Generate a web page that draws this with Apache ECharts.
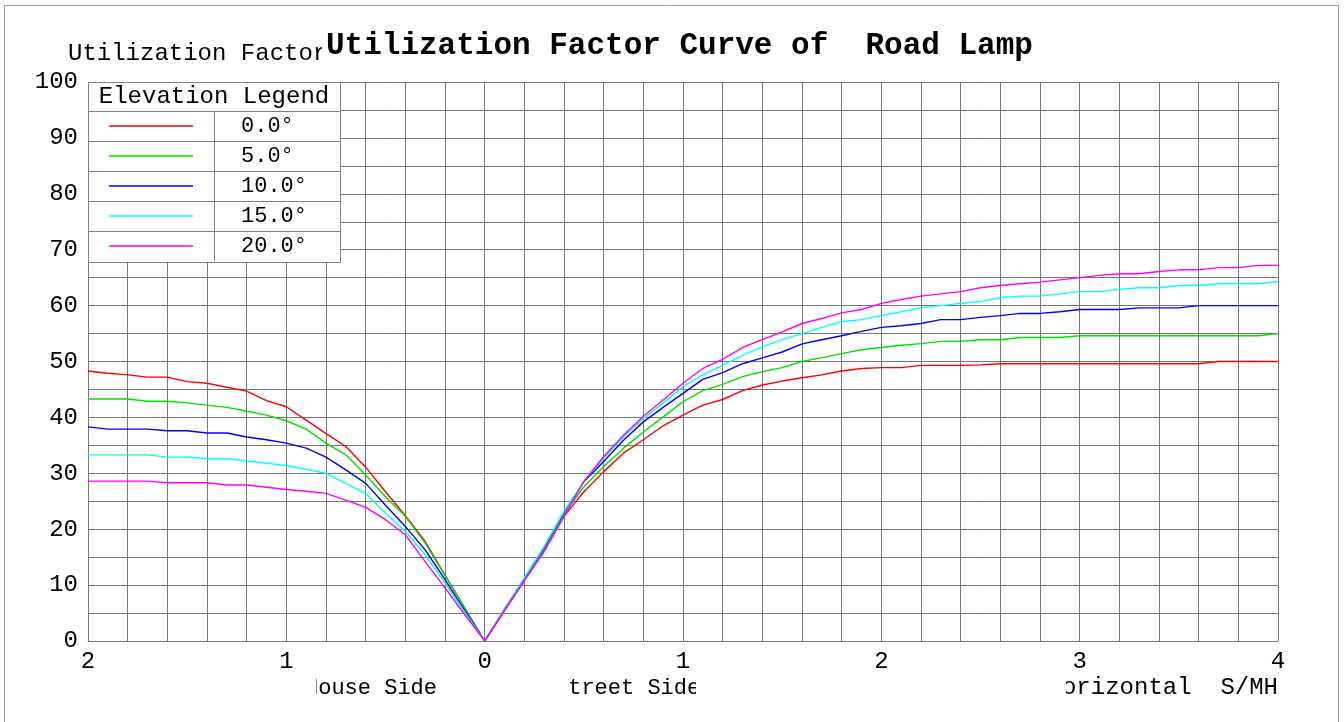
<!DOCTYPE html>
<html>
<head>
<meta charset="utf-8">
<script src="https://cdn.jsdelivr.net/npm/echarts@6/dist/echarts.min.js"></script>
<style>
html,body{margin:0;padding:0;background:#fff;}
#chart{width:1344px;height:722px;}
</style>
</head>
<body>
<div id="chart"></div>
<script>
// S/MH positions (negative = house side)
const xValues = [
  -2.0,-1.9,-1.8,-1.7,-1.6,-1.5,-1.4,-1.3,-1.2,-1.1,-1.0,-0.9,-0.8,-0.7,-0.6,-0.5,-0.4,-0.3,-0.2,-0.1,0,
  0.1,0.2,0.3,0.4,0.5,0.6,0.7,0.8,0.9,1.0,1.1,1.2,1.3,1.4,1.5,1.6,1.7,1.8,1.9,2.0,
  2.1,2.2,2.3,2.4,2.5,2.6,2.7,2.8,2.9,3.0,3.1,3.2,3.3,3.4,3.5,3.6,3.7,3.8,3.9,4.0
];
const seriesNames = ['0.0°','5.0°','10.0°','15.0°','20.0°'];
const elev0 = [
  48.3,47.9,47.6,47.2,47.2,46.4,46.1,45.4,44.7,43.0,41.9,39.5,37.1,34.8,31.1,26.7,22.4,17.8,11.8,5.9,0,
  5.4,10.8,16.3,22.3,26.7,30.3,33.6,36.0,38.5,40.4,42.2,43.2,44.8,45.8,46.5,47.1,47.6,48.3,48.75,48.9,
  48.9,49.3,49.3,49.3,49.4,49.6,49.6,49.6,49.6,49.6,49.6,49.6,49.6,49.6,49.6,49.6,50.0,50.0,50.0,50.0
];
const elev5 = [
  43.3,43.3,43.3,42.9,42.9,42.6,42.2,41.8,41.1,40.4,39.4,37.9,35.4,33.3,29.7,25.8,22.3,17.5,11.7,5.8,0,
  5.5,11.0,16.6,22.6,27.6,31.2,34.5,37.4,40.1,42.8,44.8,45.9,47.3,48.2,48.9,50.0,50.7,51.4,52.1,52.5,
  52.9,53.2,53.6,53.6,53.9,53.9,54.3,54.3,54.3,54.6,54.6,54.6,54.6,54.6,54.6,54.6,54.6,54.6,54.6,55.0
];
const elev10 = [
  38.3,37.9,37.9,37.9,37.6,37.6,37.2,37.2,36.5,36.0,35.4,34.5,32.9,30.6,28.2,24.3,20.5,16.3,11.0,5.4,0,
  5.7,11.2,16.8,23.0,28.5,32.1,35.9,39.2,41.8,44.3,46.8,48.0,49.6,50.65,51.7,53.15,53.9,54.6,55.4,56.1,
  56.4,56.8,57.5,57.5,57.9,58.2,58.6,58.6,58.9,59.3,59.3,59.3,59.6,59.6,59.6,60.0,60.0,60.0,60.0,60.0
];
const elev15 = [
  33.3,33.3,33.3,33.3,32.9,32.9,32.6,32.6,32.2,31.8,31.4,30.7,30.0,28.2,26.4,22.9,19.6,15.4,10.4,5.1,0,
  5.8,11.3,16.9,23.2,28.6,32.7,36.5,39.8,42.6,45.5,47.6,49.3,51.1,52.6,53.9,55.0,56.1,57.1,57.5,58.2,
  58.9,59.6,60.0,60.4,60.7,61.4,61.7,61.7,62.1,62.5,62.5,62.9,63.2,63.2,63.6,63.6,63.9,63.9,63.9,64.3
];
const elev20 = [
  28.6,28.6,28.6,28.6,28.3,28.3,28.3,27.9,27.9,27.5,27.1,26.8,26.4,25.2,23.9,21.7,19.0,14.2,9.5,4.7,0,
  5.5,10.8,16.0,22.3,28.5,33.0,36.8,40.2,43.1,46.1,48.75,50.4,52.5,53.9,55.3,56.8,57.7,58.7,59.3,60.4,
  61.1,61.7,62.1,62.5,63.2,63.6,63.9,64.2,64.6,65.0,65.4,65.7,65.7,66.1,66.4,66.4,66.8,66.8,67.2,67.2
];
const seriesValues = [elev0, elev5, elev10, elev15, elev20];
const seriesColors = ['#ff0000','#00e000','#0000ff','#00ffff','#ff00ff'];

const MONO = '"Liberation Mono", "DejaVu Sans Mono", monospace';
const GRIDC = '#767676';

const chart = echarts.init(document.getElementById('chart'), null, {renderer:'canvas'});

const series = seriesNames.map((name, i) => ({
  name: name,
  type: 'line',
  data: xValues.map((x, k) => [x, seriesValues[i][k]]),
  showSymbol: false,
  symbol: 'none',
  lineStyle: {color: seriesColors[i], width: 1.4},
  itemStyle: {color: seriesColors[i]},
  animation: false,
  z: 3
}));

const option = {
  backgroundColor: '#fff',
  animation: false,
  title: {
    text: 'Utilization Factor Curve of  Road Lamp',
    left: 322,
    top: 29,
    padding: [2, 4],
    backgroundColor: '#fff',
    textStyle: {fontFamily: MONO, fontSize: 31, fontWeight: 'bold', color: '#000'},
    z: 8
  },
  grid: {left: 88, right: 66, top: 82, bottom: 81, containLabel: false, outerBoundsMode: 'none'},
  xAxis: {
    type: 'value',
    min: -2, max: 4, interval: 0.2,
    axisLine: {show: true, lineStyle: {color: GRIDC, width: 1}},
    axisTick: {show: false},
    splitLine: {show: true, lineStyle: {color: GRIDC, width: 1}},
    axisLabel: {
      show: true, margin: 9,
      showMinLabel: true, showMaxLabel: true,
      fontFamily: MONO, fontSize: 24, color: '#000',
      formatter: function (v) {
        const r = Math.round(v);
        return Math.abs(v - r) < 1e-6 ? String(Math.abs(r)) : '';
      }
    }
  },
  yAxis: {
    type: 'value',
    min: 0, max: 100, interval: 5,
    axisLine: {show: true, lineStyle: {color: GRIDC, width: 1}},
    axisTick: {show: false},
    splitLine: {show: true, lineStyle: {color: GRIDC, width: 1}},
    axisLabel: {
      show: true, margin: 10,
      showMinLabel: true, showMaxLabel: true,
      fontFamily: MONO, fontSize: 24, color: '#000',
      formatter: function (v) {
        return Math.round(v) % 10 === 0 ? String(Math.round(v)) : '';
      }
    }
  },
  legend: {
    orient: 'vertical',
    left: 109, top: 111,
    padding: 0,
    itemGap: 0,
    itemWidth: 84,
    itemHeight: 1.5,
    icon: 'rect',
    selectedMode: false,
    data: seriesNames,
    textStyle: {fontFamily: MONO, fontSize: 22, color: '#000', lineHeight: 30, padding: [0, 0, 0, 43]},
    z: 12
  },
  graphic: {
    elements: [
      // outer frame
      {type: 'rect', z: 0, shape: {x: 4.5, y: 5.5, width: 1334, height: 740},
        style: {fill: null, stroke: '#9a9a9a', lineWidth: 1}},
      // y axis name (partly hidden by title)
      {type: 'text', z: 1, x: 68, y: 54,
        style: {text: 'Utilization Factor', font: '24px ' + MONO, fill: '#000', verticalAlign: 'middle', align: 'left'}},
      // legend table
      {type: 'rect', z: 5, shape: {x: 88.5, y: 82.5, width: 252, height: 180},
        style: {fill: '#fff', stroke: '#808080', lineWidth: 1}},
      {type: 'line', z: 6, shape: {x1: 88, y1: 111.5, x2: 340, y2: 111.5}, style: {stroke: '#808080', lineWidth: 1}},
      {type: 'line', z: 6, shape: {x1: 88, y1: 141.5, x2: 340, y2: 141.5}, style: {stroke: '#808080', lineWidth: 1}},
      {type: 'line', z: 6, shape: {x1: 88, y1: 171.5, x2: 340, y2: 171.5}, style: {stroke: '#808080', lineWidth: 1}},
      {type: 'line', z: 6, shape: {x1: 88, y1: 201.5, x2: 340, y2: 201.5}, style: {stroke: '#808080', lineWidth: 1}},
      {type: 'line', z: 6, shape: {x1: 88, y1: 231.5, x2: 340, y2: 231.5}, style: {stroke: '#808080', lineWidth: 1}},
      {type: 'line', z: 6, shape: {x1: 214.5, y1: 111, x2: 214.5, y2: 261}, style: {stroke: '#808080', lineWidth: 1}},
      {type: 'text', z: 7, x: 214, y: 97,
        style: {text: 'Elevation Legend', font: '24px ' + MONO, fill: '#000', align: 'center', verticalAlign: 'middle'}},
      // x axis captions
      {type: 'text', z: 1, x: 305, y: 688,
        style: {text: 'House Side', font: '22px ' + MONO, fill: '#000', align: 'left', verticalAlign: 'middle'}},
      {type: 'text', z: 1, x: 555, y: 688,
        style: {text: 'Street Side', font: '22px ' + MONO, fill: '#000', align: 'left', verticalAlign: 'middle'}},
      {type: 'text', z: 1, x: 1278, y: 688,
        style: {text: 'Horizontal  S/MH', font: '24px ' + MONO, fill: '#000', align: 'right', verticalAlign: 'middle'}},
      // caption clipping masks
      {type: 'rect', z: 2, shape: {x: 6, y: 676, width: 310, height: 26}, style: {fill: '#fff'}},
      {type: 'rect', z: 2, shape: {x: 446, y: 676, width: 122, height: 26}, style: {fill: '#fff'}},
      {type: 'rect', z: 2, shape: {x: 696, y: 676, width: 370, height: 26}, style: {fill: '#fff'}}
    ]
  },
  series: series
};
chart.setOption(option);
</script>
</body>
</html>
